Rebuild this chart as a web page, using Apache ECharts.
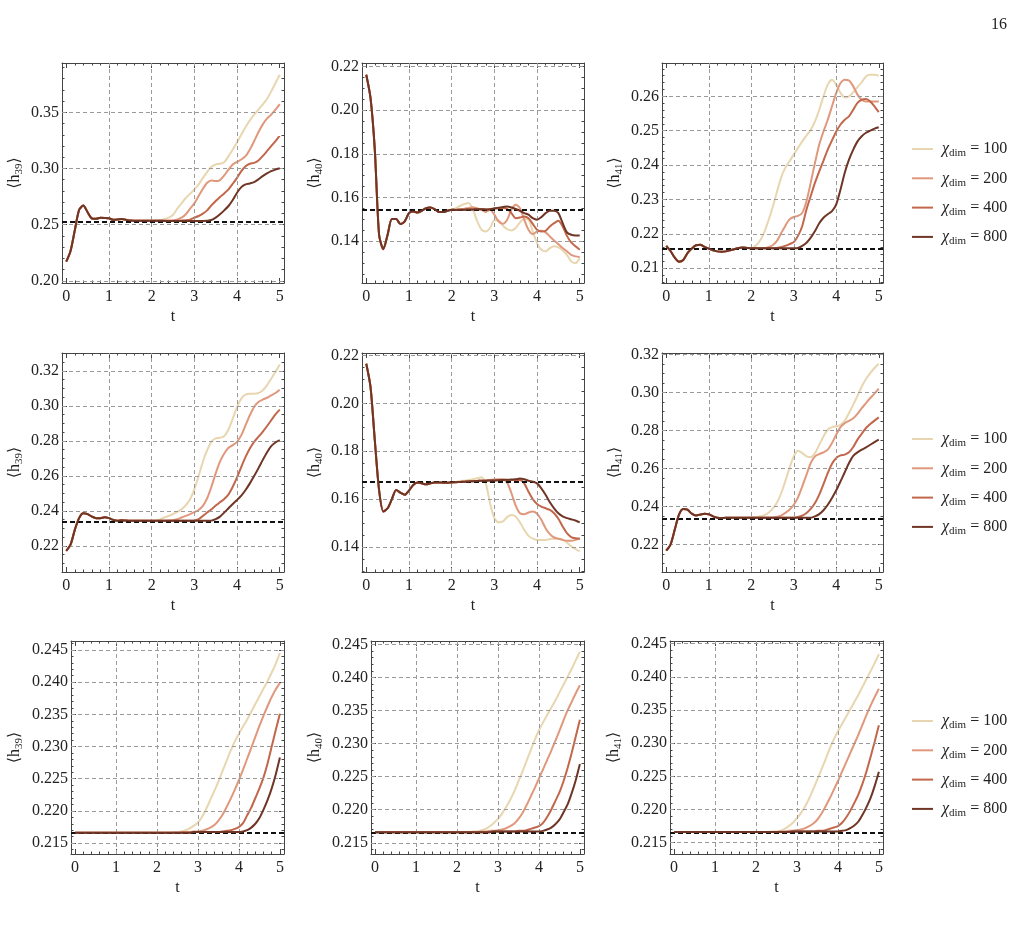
<!DOCTYPE html>
<html>
<head>
<meta charset="utf-8">
<script src="https://cdn.jsdelivr.net/npm/echarts@6/dist/echarts.min.js"></script>
<style>
html, body {margin: 0; padding: 0; background: #fff;}
#main {width: 1018px; height: 935px;}
</style>
</head>
<body>
<div id="main"></div>
<script>
// time grid (t = 0 ... 5, step 0.1)
const times = [
  0.0,0.1,0.2,0.3,0.4,0.5,0.6,0.7,0.8,0.9,
  1.0,1.1,1.2,1.3,1.4,1.5,1.6,1.7,1.8,1.9,
  2.0,2.1,2.2,2.3,2.4,2.5,2.6,2.7,2.8,2.9,
  3.0,3.1,3.2,3.3,3.4,3.5,3.6,3.7,3.8,3.9,
  4.0,4.1,4.2,4.3,4.4,4.5,4.6,4.7,4.8,4.9,
  5.0
];
const chiNames = ['100', '200', '400', '800'];
const siteNames = ['39', '40', '41', '39', '40', '41', '39', '40', '41'];

// ---- row 1 ----
const r1c1_100 = [
  0.2170,0.2265,0.2450,0.2630,0.2670,0.2610,0.2555,0.2553,0.2562,0.2560,
  0.2556,0.2543,0.2545,0.2550,0.2543,0.2537,0.2535,0.2534,0.2535,0.2534,
  0.2535,0.2536,0.2540,0.2548,0.2562,0.2586,0.2642,0.2689,0.2737,0.2775,
  0.2814,0.2858,0.2917,0.2968,0.3015,0.3036,0.3042,0.3056,0.3110,0.3169,
  0.3234,0.3302,0.3370,0.3429,0.3480,0.3524,0.3569,0.3619,0.3687,0.3761,
  0.3835];
const r1c1_200 = [
  0.2170,0.2265,0.2450,0.2630,0.2670,0.2610,0.2555,0.2553,0.2562,0.2560,
  0.2556,0.2543,0.2545,0.2550,0.2543,0.2537,0.2535,0.2534,0.2535,0.2534,
  0.2535,0.2534,0.2535,0.2536,0.2535,0.2537,0.2547,0.2562,0.2592,0.2642,
  0.2689,0.2755,0.2820,0.2873,0.2894,0.2888,0.2897,0.2938,0.2991,0.3036,
  0.3059,0.3080,0.3110,0.3169,0.3243,0.3323,0.3391,0.3444,0.3480,0.3524,
  0.3574];
const r1c1_400 = [
  0.2170,0.2265,0.2450,0.2630,0.2670,0.2610,0.2555,0.2553,0.2562,0.2560,
  0.2556,0.2543,0.2545,0.2550,0.2543,0.2537,0.2535,0.2534,0.2535,0.2534,
  0.2535,0.2534,0.2535,0.2535,0.2534,0.2534,0.2535,0.2536,0.2538,0.2544,
  0.2562,0.2577,0.2598,0.2627,0.2672,0.2710,0.2746,0.2778,0.2814,0.2864,
  0.2917,0.2977,0.3021,0.3042,0.3050,0.3071,0.3110,0.3154,0.3199,0.3243,
  0.3293];
const r1c1_800 = [
  0.2170,0.2265,0.2450,0.2630,0.2670,0.2610,0.2555,0.2553,0.2562,0.2560,
  0.2556,0.2543,0.2545,0.2550,0.2543,0.2537,0.2535,0.2534,0.2535,0.2534,
  0.2535,0.2534,0.2534,0.2533,0.2533,0.2532,0.2532,0.2532,0.2532,0.2532,
  0.2532,0.2532,0.2533,0.2535,0.2541,0.2562,0.2592,0.2627,0.2666,0.2719,
  0.2784,0.2834,0.2858,0.2867,0.2879,0.2903,0.2932,0.2956,0.2977,0.2991,
  0.3003];

const r1c2_100 = [
  0.2162,0.2055,0.1818,0.1429,0.1363,0.1429,0.1501,0.1501,0.1478,0.1490,
  0.1528,0.1536,0.1531,0.1539,0.1551,0.1554,0.1547,0.1533,0.1533,0.1539,
  0.1544,0.1551,0.1562,0.1570,0.1574,0.1544,0.1490,0.1452,0.1444,0.1460,
  0.1495,0.1495,0.1470,0.1455,0.1449,0.1460,0.1486,0.1501,0.1498,0.1444,
  0.1391,0.1360,0.1353,0.1368,0.1376,0.1371,0.1357,0.1337,0.1307,0.1299,
  0.1322];
const r1c2_200 = [
  0.2162,0.2055,0.1818,0.1429,0.1363,0.1429,0.1501,0.1501,0.1478,0.1490,
  0.1528,0.1536,0.1531,0.1539,0.1551,0.1554,0.1547,0.1533,0.1533,0.1539,
  0.1544,0.1544,0.1546,0.1548,0.1552,0.1555,0.1550,0.1544,0.1533,0.1544,
  0.1521,0.1490,0.1479,0.1498,0.1544,0.1566,0.1551,0.1498,0.1452,0.1432,
  0.1444,0.1447,0.1440,0.1421,0.1403,0.1386,0.1368,0.1353,0.1337,0.1330,
  0.1327];
const r1c2_400 = [
  0.2162,0.2055,0.1818,0.1429,0.1363,0.1429,0.1501,0.1501,0.1478,0.1490,
  0.1528,0.1536,0.1531,0.1539,0.1551,0.1554,0.1547,0.1533,0.1533,0.1539,
  0.1544,0.1543,0.1544,0.1544,0.1545,0.1545,0.1546,0.1546,0.1545,0.1546,
  0.1548,0.1550,0.1552,0.1548,0.1528,0.1505,0.1508,0.1513,0.1505,0.1479,
  0.1452,0.1444,0.1447,0.1467,0.1482,0.1493,0.1467,0.1424,0.1394,0.1376,
  0.1360];
const r1c2_800 = [
  0.2162,0.2055,0.1818,0.1429,0.1363,0.1429,0.1501,0.1501,0.1478,0.1490,
  0.1528,0.1536,0.1531,0.1539,0.1551,0.1554,0.1547,0.1533,0.1533,0.1539,
  0.1544,0.1543,0.1544,0.1544,0.1545,0.1545,0.1546,0.1546,0.1545,0.1546,
  0.1550,0.1553,0.1556,0.1559,0.1554,0.1547,0.1539,0.1528,0.1521,0.1505,
  0.1498,0.1510,0.1528,0.1539,0.1539,0.1528,0.1482,0.1440,0.1429,0.1426,
  0.1426];

const r1c3_100 = [
  0.2165,0.2150,0.2131,0.2119,0.2124,0.2144,0.2157,0.2167,0.2168,0.2162,
  0.2157,0.2152,0.2149,0.2148,0.2149,0.2152,0.2155,0.2159,0.2160,0.2159,
  0.2158,0.2165,0.2179,0.2203,0.2237,0.2276,0.2320,0.2363,0.2392,0.2411,
  0.2431,0.2450,0.2469,0.2486,0.2503,0.2527,0.2561,0.2600,0.2634,0.2648,
  0.2634,0.2610,0.2597,0.2600,0.2612,0.2627,0.2641,0.2658,0.2663,0.2663,
  0.2660];
const r1c3_200 = [
  0.2165,0.2150,0.2131,0.2119,0.2124,0.2144,0.2157,0.2167,0.2168,0.2162,
  0.2157,0.2152,0.2149,0.2148,0.2149,0.2152,0.2155,0.2159,0.2160,0.2159,
  0.2158,0.2158,0.2158,0.2158,0.2161,0.2167,0.2179,0.2201,0.2223,0.2242,
  0.2249,0.2252,0.2261,0.2295,0.2349,0.2407,0.2460,0.2498,0.2532,0.2571,
  0.2610,0.2639,0.2648,0.2646,0.2629,0.2605,0.2590,0.2585,0.2585,0.2585,
  0.2585];
const r1c3_400 = [
  0.2165,0.2150,0.2131,0.2119,0.2124,0.2144,0.2157,0.2167,0.2168,0.2162,
  0.2157,0.2152,0.2149,0.2148,0.2149,0.2152,0.2155,0.2159,0.2160,0.2159,
  0.2158,0.2158,0.2158,0.2158,0.2158,0.2158,0.2159,0.2161,0.2165,0.2170,
  0.2176,0.2194,0.2223,0.2271,0.2310,0.2349,0.2382,0.2413,0.2445,0.2472,
  0.2498,0.2518,0.2532,0.2542,0.2561,0.2581,0.2590,0.2592,0.2585,0.2571,
  0.2554];
const r1c3_800 = [
  0.2165,0.2150,0.2131,0.2119,0.2124,0.2144,0.2157,0.2167,0.2168,0.2162,
  0.2157,0.2152,0.2149,0.2148,0.2149,0.2152,0.2155,0.2159,0.2160,0.2159,
  0.2158,0.2158,0.2158,0.2158,0.2158,0.2158,0.2158,0.2158,0.2158,0.2158,
  0.2158,0.2159,0.2165,0.2174,0.2189,0.2208,0.2231,0.2247,0.2257,0.2266,
  0.2286,0.2329,0.2378,0.2416,0.2445,0.2469,0.2484,0.2494,0.2500,0.2506,
  0.2510];

// ---- row 2 ----
const r2c1_100 = [
  0.2171,0.2206,0.2291,0.2358,0.2386,0.2381,0.2367,0.2358,0.2358,0.2363,
  0.2358,0.2348,0.2343,0.2346,0.2344,0.2343,0.2343,0.2343,0.2343,0.2343,
  0.2343,0.2344,0.2352,0.2362,0.2371,0.2382,0.2394,0.2409,0.2432,0.2466,
  0.2523,0.2599,0.2681,0.2747,0.2795,0.2814,0.2818,0.2827,0.2865,0.2928,
  0.2994,0.3042,0.3065,0.3070,0.3070,0.3074,0.3089,0.3118,0.3156,0.3194,
  0.3237];
const r2c1_200 = [
  0.2171,0.2206,0.2291,0.2358,0.2386,0.2381,0.2367,0.2358,0.2358,0.2363,
  0.2358,0.2348,0.2343,0.2346,0.2344,0.2343,0.2343,0.2343,0.2343,0.2343,
  0.2343,0.2343,0.2343,0.2343,0.2344,0.2346,0.2352,0.2362,0.2371,0.2381,
  0.2392,0.2405,0.2428,0.2472,0.2538,0.2614,0.2681,0.2728,0.2761,0.2776,
  0.2795,0.2833,0.2890,0.2947,0.2994,0.3023,0.3036,0.3047,0.3061,0.3074,
  0.3093];
const r2c1_400 = [
  0.2171,0.2206,0.2291,0.2358,0.2386,0.2381,0.2367,0.2358,0.2358,0.2363,
  0.2358,0.2348,0.2343,0.2346,0.2344,0.2343,0.2343,0.2343,0.2343,0.2343,
  0.2343,0.2343,0.2343,0.2343,0.2343,0.2343,0.2343,0.2343,0.2343,0.2343,
  0.2344,0.2352,0.2371,0.2390,0.2409,0.2430,0.2449,0.2468,0.2494,0.2538,
  0.2591,0.2652,0.2709,0.2757,0.2795,0.2823,0.2852,0.2884,0.2918,0.2952,
  0.2979];
const r2c1_800 = [
  0.2171,0.2206,0.2291,0.2358,0.2386,0.2381,0.2367,0.2358,0.2358,0.2363,
  0.2358,0.2348,0.2343,0.2346,0.2344,0.2343,0.2343,0.2343,0.2343,0.2343,
  0.2343,0.2343,0.2343,0.2343,0.2343,0.2343,0.2343,0.2343,0.2343,0.2343,
  0.2343,0.2343,0.2343,0.2343,0.2344,0.2352,0.2367,0.2390,0.2415,0.2439,
  0.2462,0.2487,0.2519,0.2557,0.2599,0.2643,0.2690,0.2734,0.2770,0.2791,
  0.2804];

const r2c2_100 = [
  0.2165,0.2068,0.1846,0.1638,0.1548,0.1562,0.1600,0.1638,0.1627,0.1618,
  0.1636,0.1659,0.1670,0.1666,0.1662,0.1666,0.1670,0.1670,0.1669,0.1669,
  0.1670,0.1672,0.1676,0.1677,0.1680,0.1683,0.1687,0.1691,0.1666,0.1583,
  0.1521,0.1503,0.1507,0.1525,0.1534,0.1528,0.1503,0.1472,0.1447,0.1435,
  0.1430,0.1430,0.1430,0.1433,0.1435,0.1435,0.1430,0.1419,0.1403,0.1392,
  0.1382];
const r2c2_200 = [
  0.2165,0.2068,0.1846,0.1638,0.1548,0.1562,0.1600,0.1638,0.1627,0.1618,
  0.1636,0.1659,0.1670,0.1666,0.1662,0.1666,0.1670,0.1670,0.1669,0.1669,
  0.1670,0.1671,0.1672,0.1673,0.1674,0.1675,0.1676,0.1677,0.1678,0.1680,
  0.1682,0.1683,0.1683,0.1669,0.1625,0.1573,0.1541,0.1537,0.1544,0.1548,
  0.1539,0.1514,0.1479,0.1454,0.1440,0.1435,0.1430,0.1426,0.1426,0.1430,
  0.1437];
const r2c2_400 = [
  0.2165,0.2068,0.1846,0.1638,0.1548,0.1562,0.1600,0.1638,0.1627,0.1618,
  0.1636,0.1659,0.1670,0.1666,0.1662,0.1666,0.1670,0.1670,0.1669,0.1669,
  0.1670,0.1671,0.1672,0.1673,0.1674,0.1675,0.1676,0.1677,0.1677,0.1678,
  0.1678,0.1679,0.1680,0.1680,0.1680,0.1680,0.1680,0.1666,0.1631,0.1600,
  0.1580,0.1569,0.1562,0.1555,0.1541,0.1518,0.1486,0.1458,0.1442,0.1437,
  0.1435];
const r2c2_800 = [
  0.2165,0.2068,0.1846,0.1638,0.1548,0.1562,0.1600,0.1638,0.1627,0.1618,
  0.1636,0.1659,0.1670,0.1666,0.1662,0.1666,0.1670,0.1670,0.1669,0.1669,
  0.1670,0.1671,0.1672,0.1673,0.1674,0.1675,0.1676,0.1677,0.1677,0.1678,
  0.1678,0.1679,0.1680,0.1681,0.1682,0.1683,0.1686,0.1683,0.1677,0.1673,
  0.1666,0.1645,0.1618,0.1587,0.1562,0.1541,0.1528,0.1521,0.1516,0.1511,
  0.1503];

const r2c3_100 = [
  0.2168,0.2200,0.2279,0.2358,0.2388,0.2384,0.2363,0.2354,0.2358,0.2363,
  0.2360,0.2349,0.2342,0.2340,0.2341,0.2341,0.2341,0.2341,0.2341,0.2342,
  0.2342,0.2344,0.2349,0.2354,0.2367,0.2388,0.2419,0.2468,0.2533,0.2603,
  0.2665,0.2695,0.2682,0.2665,0.2661,0.2682,0.2726,0.2770,0.2805,0.2819,
  0.2823,0.2831,0.2852,0.2893,0.2937,0.2984,0.3033,0.3072,0.3103,0.3130,
  0.3152];
const r2c3_200 = [
  0.2168,0.2200,0.2279,0.2358,0.2388,0.2384,0.2363,0.2354,0.2358,0.2363,
  0.2360,0.2349,0.2342,0.2340,0.2341,0.2341,0.2341,0.2341,0.2341,0.2342,
  0.2342,0.2342,0.2342,0.2342,0.2342,0.2342,0.2346,0.2353,0.2367,0.2384,
  0.2410,0.2449,0.2507,0.2568,0.2630,0.2665,0.2677,0.2686,0.2700,0.2735,
  0.2779,0.2819,0.2840,0.2852,0.2866,0.2889,0.2919,0.2945,0.2972,0.2995,
  0.3021];
const r2c3_400 = [
  0.2168,0.2200,0.2279,0.2358,0.2388,0.2384,0.2363,0.2354,0.2358,0.2363,
  0.2360,0.2349,0.2342,0.2340,0.2341,0.2341,0.2341,0.2341,0.2341,0.2342,
  0.2342,0.2342,0.2342,0.2342,0.2342,0.2342,0.2342,0.2342,0.2342,0.2342,
  0.2342,0.2346,0.2353,0.2367,0.2388,0.2419,0.2463,0.2519,0.2577,0.2626,
  0.2656,0.2670,0.2674,0.2686,0.2714,0.2753,0.2784,0.2814,0.2835,0.2853,
  0.2870];
const r2c3_800 = [
  0.2168,0.2200,0.2279,0.2358,0.2388,0.2384,0.2363,0.2354,0.2358,0.2363,
  0.2360,0.2349,0.2342,0.2340,0.2341,0.2341,0.2341,0.2341,0.2341,0.2342,
  0.2342,0.2342,0.2342,0.2342,0.2342,0.2342,0.2342,0.2342,0.2342,0.2342,
  0.2342,0.2342,0.2342,0.2342,0.2342,0.2349,0.2361,0.2381,0.2410,0.2446,
  0.2486,0.2533,0.2581,0.2630,0.2668,0.2686,0.2700,0.2712,0.2726,0.2740,
  0.2753];

// ---- row 3 ----
const r3c1_100 = [
  0.2166,0.2166,0.2166,0.2166,0.2166,0.2166,0.2166,0.2166,0.2166,0.2166,
  0.2166,0.2166,0.2166,0.2166,0.2166,0.2166,0.2166,0.2166,0.2166,0.2166,
  0.2166,0.2166,0.2166,0.2166,0.2167,0.2167,0.2168,0.2170,0.2173,0.2177,
  0.2182,0.2191,0.2203,0.2217,0.2231,0.2246,0.2262,0.2278,0.2294,0.2308,
  0.2320,0.2331,0.2342,0.2354,0.2366,0.2378,0.2390,0.2402,0.2415,0.2429,
  0.2445];
const r3c1_200 = [
  0.2166,0.2166,0.2166,0.2166,0.2166,0.2166,0.2166,0.2166,0.2166,0.2166,
  0.2166,0.2166,0.2166,0.2166,0.2166,0.2166,0.2166,0.2166,0.2166,0.2166,
  0.2166,0.2166,0.2166,0.2166,0.2166,0.2166,0.2167,0.2167,0.2167,0.2168,
  0.2168,0.2169,0.2171,0.2174,0.2178,0.2185,0.2194,0.2206,0.2219,0.2233,
  0.2248,0.2264,0.2281,0.2298,0.2315,0.2332,0.2348,0.2363,0.2377,0.2389,
  0.2399];
const r3c1_400 = [
  0.2166,0.2166,0.2166,0.2166,0.2166,0.2166,0.2166,0.2166,0.2166,0.2166,
  0.2166,0.2166,0.2166,0.2166,0.2166,0.2166,0.2166,0.2166,0.2166,0.2166,
  0.2166,0.2166,0.2166,0.2166,0.2166,0.2166,0.2166,0.2166,0.2166,0.2167,
  0.2167,0.2167,0.2167,0.2167,0.2167,0.2167,0.2168,0.2169,0.2170,0.2172,
  0.2175,0.2181,0.2193,0.2205,0.2220,0.2235,0.2252,0.2274,0.2300,0.2326,
  0.2351];
const r3c1_800 = [
  0.2166,0.2166,0.2166,0.2166,0.2166,0.2166,0.2166,0.2166,0.2166,0.2166,
  0.2166,0.2166,0.2166,0.2166,0.2166,0.2166,0.2166,0.2166,0.2166,0.2166,
  0.2166,0.2166,0.2166,0.2166,0.2166,0.2166,0.2166,0.2166,0.2166,0.2167,
  0.2167,0.2167,0.2167,0.2167,0.2167,0.2167,0.2167,0.2167,0.2167,0.2167,
  0.2167,0.2168,0.2170,0.2174,0.2180,0.2189,0.2202,0.2217,0.2235,0.2257,
  0.2283];

const r3c2_100 = [
  0.2166,0.2166,0.2166,0.2166,0.2166,0.2166,0.2166,0.2166,0.2166,0.2166,
  0.2166,0.2166,0.2166,0.2166,0.2166,0.2166,0.2166,0.2166,0.2166,0.2166,
  0.2166,0.2166,0.2166,0.2166,0.2167,0.2167,0.2169,0.2171,0.2175,0.2180,
  0.2186,0.2194,0.2204,0.2215,0.2228,0.2243,0.2258,0.2274,0.2290,0.2306,
  0.2320,0.2332,0.2343,0.2354,0.2365,0.2377,0.2389,0.2401,0.2413,0.2426,
  0.2439];
const r3c2_200 = [
  0.2166,0.2166,0.2166,0.2166,0.2166,0.2166,0.2166,0.2166,0.2166,0.2166,
  0.2166,0.2166,0.2166,0.2166,0.2166,0.2166,0.2166,0.2166,0.2166,0.2166,
  0.2166,0.2166,0.2166,0.2166,0.2166,0.2166,0.2167,0.2167,0.2168,0.2168,
  0.2169,0.2170,0.2172,0.2175,0.2179,0.2186,0.2195,0.2207,0.2220,0.2233,
  0.2247,0.2261,0.2275,0.2289,0.2304,0.2319,0.2335,0.2350,0.2363,0.2376,
  0.2388];
const r3c2_400 = [
  0.2166,0.2166,0.2166,0.2166,0.2166,0.2166,0.2166,0.2166,0.2166,0.2166,
  0.2166,0.2166,0.2166,0.2166,0.2166,0.2166,0.2166,0.2166,0.2166,0.2166,
  0.2166,0.2166,0.2166,0.2166,0.2166,0.2166,0.2166,0.2166,0.2166,0.2167,
  0.2167,0.2167,0.2167,0.2167,0.2167,0.2168,0.2168,0.2169,0.2171,0.2173,
  0.2175,0.2180,0.2189,0.2200,0.2213,0.2226,0.2243,0.2263,0.2286,0.2311,
  0.2336];
const r3c2_800 = [
  0.2166,0.2166,0.2166,0.2166,0.2166,0.2166,0.2166,0.2166,0.2166,0.2166,
  0.2166,0.2166,0.2166,0.2166,0.2166,0.2166,0.2166,0.2166,0.2166,0.2166,
  0.2166,0.2166,0.2166,0.2166,0.2166,0.2166,0.2166,0.2166,0.2166,0.2167,
  0.2167,0.2167,0.2167,0.2167,0.2167,0.2167,0.2167,0.2167,0.2167,0.2167,
  0.2167,0.2168,0.2170,0.2173,0.2178,0.2185,0.2196,0.2208,0.2225,0.2245,
  0.2269];

const r3c3_100 = [
  0.2166,0.2166,0.2166,0.2166,0.2166,0.2166,0.2166,0.2166,0.2166,0.2166,
  0.2166,0.2166,0.2166,0.2166,0.2166,0.2166,0.2166,0.2166,0.2166,0.2166,
  0.2166,0.2166,0.2166,0.2166,0.2167,0.2167,0.2168,0.2171,0.2175,0.2180,
  0.2187,0.2195,0.2205,0.2217,0.2231,0.2246,0.2261,0.2276,0.2292,0.2306,
  0.2318,0.2329,0.2340,0.2351,0.2362,0.2373,0.2385,0.2397,0.2409,0.2421,
  0.2434];
const r3c3_200 = [
  0.2166,0.2166,0.2166,0.2166,0.2166,0.2166,0.2166,0.2166,0.2166,0.2166,
  0.2166,0.2166,0.2166,0.2166,0.2166,0.2166,0.2166,0.2166,0.2166,0.2166,
  0.2166,0.2166,0.2166,0.2166,0.2166,0.2166,0.2167,0.2167,0.2168,0.2168,
  0.2169,0.2170,0.2172,0.2175,0.2179,0.2185,0.2194,0.2205,0.2217,0.2230,
  0.2243,0.2257,0.2271,0.2285,0.2299,0.2313,0.2328,0.2343,0.2357,0.2370,
  0.2382];
const r3c3_400 = [
  0.2166,0.2166,0.2166,0.2166,0.2166,0.2166,0.2166,0.2166,0.2166,0.2166,
  0.2166,0.2166,0.2166,0.2166,0.2166,0.2166,0.2166,0.2166,0.2166,0.2166,
  0.2166,0.2166,0.2166,0.2166,0.2166,0.2166,0.2166,0.2166,0.2166,0.2167,
  0.2167,0.2167,0.2167,0.2167,0.2167,0.2168,0.2168,0.2169,0.2171,0.2173,
  0.2175,0.2180,0.2188,0.2198,0.2210,0.2223,0.2239,0.2258,0.2280,0.2303,
  0.2327];
const r3c3_800 = [
  0.2166,0.2166,0.2166,0.2166,0.2166,0.2166,0.2166,0.2166,0.2166,0.2166,
  0.2166,0.2166,0.2166,0.2166,0.2166,0.2166,0.2166,0.2166,0.2166,0.2166,
  0.2166,0.2166,0.2166,0.2166,0.2166,0.2166,0.2166,0.2166,0.2166,0.2167,
  0.2167,0.2167,0.2167,0.2167,0.2167,0.2167,0.2167,0.2167,0.2167,0.2167,
  0.2167,0.2168,0.2169,0.2172,0.2176,0.2182,0.2192,0.2204,0.2218,0.2236,
  0.2257];

// reference value (black dashed line) per panel
const refLevels = [0.2529, 0.1542, 0.2158, 0.2339, 0.1673, 0.2338, 0.21657, 0.21657, 0.21657];

// axes: tick labels per panel
const xTicks = [0, 1, 2, 3, 4, 5];
const xGridLines = [1, 2, 3, 4];
const yTicks = [
  [0.20, 0.25, 0.30, 0.35],
  [0.14, 0.16, 0.18, 0.20, 0.22],
  [0.21, 0.22, 0.23, 0.24, 0.25, 0.26],
  [0.22, 0.24, 0.26, 0.28, 0.30, 0.32],
  [0.14, 0.16, 0.18, 0.20, 0.22],
  [0.22, 0.24, 0.26, 0.28, 0.30, 0.32],
  [0.215, 0.220, 0.225, 0.230, 0.235, 0.240, 0.245],
  [0.215, 0.220, 0.225, 0.230, 0.235, 0.240, 0.245],
  [0.215, 0.220, 0.225, 0.230, 0.235, 0.240, 0.245]
];
const yRanges = [
  [0.198, 0.394], [0.1208, 0.2216], [0.2057, 0.2697],
  [0.205, 0.3303], [0.1296, 0.221], [0.2056, 0.3209],
  [0.2133, 0.2464], [0.2133, 0.2455], [0.2133, 0.2454]
];
const xRange = [-0.1, 5.1];

const panelSeries = [
  [r1c1_100, r1c1_200, r1c1_400, r1c1_800],
  [r1c2_100, r1c2_200, r1c2_400, r1c2_800],
  [r1c3_100, r1c3_200, r1c3_400, r1c3_800],
  [r2c1_100, r2c1_200, r2c1_400, r2c1_800],
  [r2c2_100, r2c2_200, r2c2_400, r2c2_800],
  [r2c3_100, r2c3_200, r2c3_400, r2c3_800],
  [r3c1_100, r3c1_200, r3c1_400, r3c1_800],
  [r3c2_100, r3c2_200, r3c2_400, r3c2_800],
  [r3c3_100, r3c3_200, r3c3_400, r3c3_800]
];

// layout + style
const colors = ['#E8D6B0', '#E0987C', '#C2674B', '#6F3525'];
const FONT = 'Liberation Serif, DejaVu Serif, serif';
const frameColor = '#444';
const rowTop = [63, 353, 641];
const rowHeight = [220, 219, 213];
const colLeft = [[62, 362, 662], [62, 362, 662], [71, 371, 670]];
const colWidth = [[222, 222, 221], [222, 222, 221], [213, 213, 213]];
const yNameGap = [37, 37, 46];
const yMinorDiv = [5, 4, 5, 4, 4, 4, 5, 5, 5];
const yDigits = [2, 2, 2, 2, 2, 2, 3, 3, 3];
const legendTop = [136, 426, 708];

function minorValues(range, majors, div) {
  const step = (majors[1] - majors[0]) / div;
  const out = [];
  const start = Math.ceil((range[0] - 1e-9) / step);
  for (let i = start; i * step <= range[1] + 1e-9; i++) {
    const v = +(i * step).toFixed(6);
    if (!majors.some(m => Math.abs(m - v) < step / 10)) out.push(v);
  }
  return out;
}

const richText = {
  a: {fontFamily: FONT, fontSize: 16, color: '#222', lineHeight: 20},
  x: {fontFamily: FONT, fontSize: 16, fontStyle: 'italic', color: '#222', lineHeight: 20},
  s: {fontFamily: FONT, fontSize: 11, color: '#222', lineHeight: 10, verticalAlign: 'bottom'}
};

const grids = [], xAxes = [], yAxes = [], series = [];
const xMinor = minorValues(xRange, xTicks, 5);

panelSeries.forEach((group, k) => {
  const row = Math.floor(k / 3), col = k % 3;
  grids.push({
    left: colLeft[row][col], top: rowTop[row],
    width: colWidth[row][col], height: rowHeight[row],
    containLabel: false, outerBoundsMode: 'none'
  });
  const yMinor = minorValues(yRanges[k], yTicks[k], yMinorDiv[k]);
  const xBase = {gridIndex: k, type: 'value', min: xRange[0], max: xRange[1], silent: true, splitLine: {show: false}};
  const yBase = {gridIndex: k, type: 'value', min: yRanges[k][0], max: yRanges[k][1], silent: true, splitLine: {show: false}};
  const line = {show: true, onZero: false, lineStyle: {color: frameColor, width: 1}};
  const noLine = {show: false, onZero: false};
  const majorTick = vals => ({show: true, inside: true, length: 5, customValues: vals, lineStyle: {color: frameColor}});
  const minorTick = vals => ({show: true, inside: true, length: 2.5, customValues: vals, lineStyle: {color: frameColor}});

  xAxes.push(Object.assign({}, xBase, {
    position: 'bottom', axisLine: line, axisTick: majorTick(xTicks),
    axisLabel: {show: true, customValues: xTicks, margin: 6, fontFamily: FONT, fontSize: 16, color: '#222',
      formatter: v => String(Math.round(v))},
    name: 't', nameLocation: 'middle', nameGap: 26,
    nameTextStyle: {fontFamily: FONT, fontSize: 16, color: '#222'}
  }));
  xAxes.push(Object.assign({}, xBase, {position: 'bottom', axisLine: noLine, axisTick: minorTick(xMinor), axisLabel: {show: false}}));
  xAxes.push(Object.assign({}, xBase, {position: 'top', axisLine: line, axisTick: majorTick(xTicks), axisLabel: {show: false}}));
  xAxes.push(Object.assign({}, xBase, {position: 'top', axisLine: noLine, axisTick: minorTick(xMinor), axisLabel: {show: false}}));

  yAxes.push(Object.assign({}, yBase, {
    position: 'left', axisLine: line, axisTick: majorTick(yTicks[k]),
    axisLabel: {show: true, customValues: yTicks[k], margin: 3, fontFamily: FONT, fontSize: 16, color: '#222',
      formatter: v => v.toFixed(yDigits[k])},
    name: '{a|\u27E8h}{s|' + siteNames[k] + '}{a|\u27E9}',
    nameLocation: 'middle', nameGap: yNameGap[row], nameRotate: 90,
    nameTextStyle: {rich: richText}
  }));
  yAxes.push(Object.assign({}, yBase, {position: 'left', axisLine: noLine, axisTick: minorTick(yMinor), axisLabel: {show: false}}));
  yAxes.push(Object.assign({}, yBase, {position: 'right', axisLine: line, axisTick: majorTick(yTicks[k]), axisLabel: {show: false}}));
  yAxes.push(Object.assign({}, yBase, {position: 'right', axisLine: noLine, axisTick: minorTick(yMinor), axisLabel: {show: false}}));

  group.forEach((vals, j) => {
    const s = {
      name: chiNames[j], type: 'line',
      xAxisIndex: 4 * k, yAxisIndex: 4 * k,
      data: times.map((t, i) => [t, vals[i]]),
      showSymbol: false, symbol: 'none', smooth: 0.25,
      lineStyle: {color: colors[j], width: 2},
      itemStyle: {color: colors[j]},
      clip: true, silent: true, z: 2 + j
    };
    if (j === 0) {
      // dashed grid lines at the major ticks
      s.markLine = {
        silent: true, symbol: ['none', 'none'], label: {show: false}, precision: 6,
        lineStyle: {color: '#9a9a9a', type: [4, 3], width: 1},
        emphasis: {disabled: true},
        data: xGridLines.map(v => ({xAxis: v})).concat(yTicks[k].map(v => ({yAxis: v})))
      };
    }
    if (j === group.length - 1) {
      s.markLine = {
        silent: true, symbol: ['none', 'none'], label: {show: false}, precision: 6,
        lineStyle: {color: '#111', type: [5, 3], width: 2},
        emphasis: {disabled: true},
        data: [{yAxis: refLevels[k]}]
      };
    }
    series.push(s);
  });
});

const legends = legendTop.map(top => ({
  orient: 'vertical', left: 907, top: top,
  data: chiNames, icon: 'rect', itemWidth: 21, itemHeight: 2, itemGap: 11.3,
  formatter: n => '{x|\u03C7}{s|dim}{a| = ' + n + '}',
  textStyle: {rich: richText, padding: [0, 0, 0, 4]},
  selectedMode: false
}));

const chart = echarts.init(document.getElementById('main'));
chart.setOption({
  animation: false,
  backgroundColor: '#fff',
  title: {text: '16', right: 6, top: 12,
    textStyle: {fontFamily: FONT, fontSize: 16, fontWeight: 'normal', color: '#222'}},
  legend: legends,
  grid: grids,
  xAxis: xAxes,
  yAxis: yAxes,
  series: series
});
</script>
</body>
</html>
